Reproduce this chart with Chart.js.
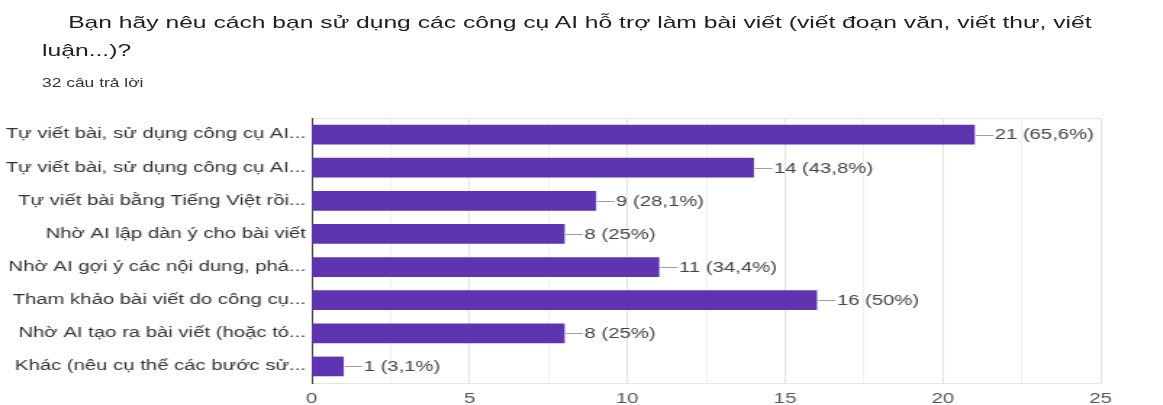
<!DOCTYPE html>
<html>
<head>
<meta charset="utf-8">
<script src="https://cdn.jsdelivr.net/npm/chart.js@4.4.1/dist/chart.umd.min.js"></script>
<style>
  html, body { margin: 0; padding: 0; background: #fff; overflow: hidden; }
  body { width: 1163px; height: 405px; position: relative; }
  /* the source screenshot is stretched sideways, so the whole sheet is too */
  #sheet {
    position: absolute; left: 0; top: 0;
    width: 802px; height: 405px;
    transform: scaleX(1.45); transform-origin: 0 0;
    font-family: "Liberation Sans", Arial, sans-serif;
  }
  #title {
    position: absolute; left: 29px; top: 9px; width: 780px;
    font-size: 17px; line-height: 28px; color: #202124;
    text-indent: 18px;
  }
  #sub {
    position: absolute; left: 29px; top: 76px;
    font-size: 12px; line-height: 14px; color: #333;
  }
  #chart { position: absolute; left: 0; top: 100px; }
</style>
</head>
<body>
<div id="sheet">
  <div id="title">Bạn hãy nêu cách bạn sử dụng các công cụ AI hỗ trợ làm bài viết (viết đoạn văn, viết thư, viết<br>luận...)?</div>
  <div id="sub">32 câu trả lời</div>
  <canvas id="chart" width="802" height="305"></canvas>
</div>
<script>
// ---- data ----
const TOTAL = 32;
const categories = [
  'Tự viết bài, sử dụng công cụ AI...',
  'Tự viết bài, sử dụng công cụ AI...',
  'Tự viết bài bằng Tiếng Việt rồi...',
  'Nhờ AI lập dàn ý cho bài viết',
  'Nhờ AI gợi ý các nội dung, phá...',
  'Tham khảo bài viết do công cụ...',
  'Nhờ AI tạo ra bài viết (hoặc tó...',
  'Khác (nêu cụ thể các bước sử...',
];
const counts = [21, 14, 9, 8, 11, 16, 8, 1];
const xTicks = [0, 5, 10, 15, 20, 25];

const BAR = '#5e35b1';
const FONT = '"Liberation Sans", Arial, sans-serif';

const pct = v => {
  const p = Math.round(v / TOTAL * 1000) / 10;
  return String(p).replace('.', ',');
};

// value label with a short leader line after each bar
const barLabels = {
  id: 'barLabels',
  afterDatasetsDraw(chart) {
    const ctx = chart.ctx;
    const meta = chart.getDatasetMeta(0);
    ctx.save();
    ctx.font = '14px ' + FONT;
    ctx.textBaseline = 'middle';
    meta.data.forEach((bar, i) => {
      const v = chart.data.datasets[0].data[i];
      ctx.strokeStyle = '#9e9e9e';
      ctx.lineWidth = 1;
      ctx.beginPath();
      ctx.moveTo(bar.x + 1, Math.round(bar.y) + 0.5);
      ctx.lineTo(bar.x + 13, Math.round(bar.y) + 0.5);
      ctx.stroke();
      ctx.fillStyle = '#444';
      ctx.fillText(`${v} (${pct(v)}%)`, bar.x + 14, bar.y + 1);
    });
    ctx.restore();
  },
};

new Chart(document.getElementById('chart'), {
  type: 'bar',
  data: {
    labels: categories,
    datasets: [{
      data: counts,
      backgroundColor: BAR,
      borderWidth: 0,
      barThickness: 19,
    }],
  },
  options: {
    indexAxis: 'y',
    responsive: false,
    animation: false,
    layout: { padding: { left: 0, right: 43, top: 18, bottom: 0 } },
    plugins: { legend: { display: false }, tooltip: { enabled: false } },
    scales: {
      x: {
        min: 0, max: 25,
        ticks: {
          stepSize: 2.5, autoSkip: false, maxRotation: 0,
          color: '#555', padding: 8,
          font: { family: FONT, size: 14 },
          callback: v => (xTicks.includes(v) ? v : ''),
        },
        grid: {
          drawTicks: false,
          color: c => (c.tick && xTicks.includes(c.tick.value) ? '#e2e2e2' : '#f0f0f0'),
        },
        border: { color: '#e6e6e6' },
        afterFit: s => { s.height = 22; },
      },
      xTop: {
        position: 'top', min: 0, max: 25,
        ticks: { display: false },
        grid: { display: false },
        border: { color: '#e6e6e6' },
        afterFit: s => { s.height = 0; },
      },
      y: {
        ticks: {
          color: '#333', padding: 4,
          font: { family: FONT, size: 14 },
        },
        grid: { display: false, drawTicks: false },
        border: { color: '#444', width: 1 },
        afterFit: s => { s.width = 215; },
      },
    },
  },
  plugins: [barLabels],
});
</script>
</body>
</html>
